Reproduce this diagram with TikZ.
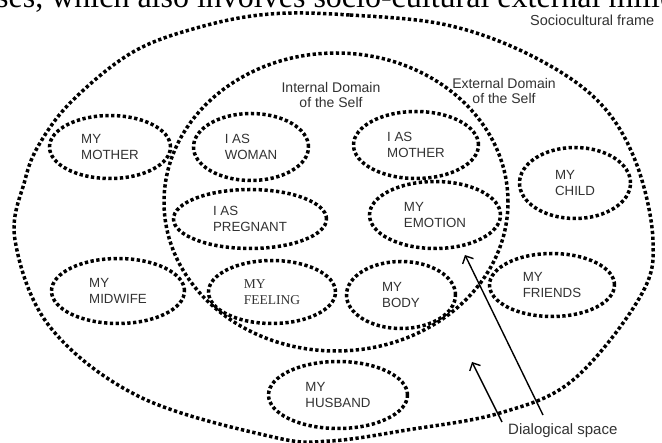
\documentclass[tikz,border=0pt]{standalone}
\usepackage{fontspec}
\setmainfont{Liberation Sans}
\newfontfamily\serifff{Liberation Serif}
\usetikzlibrary{shapes.geometric,arrows.meta}
\definecolor{txt}{RGB}{50,50,50}
\begin{document}
\begin{tikzpicture}[x=1pt,y=-1pt,
 dots/.style={line width=3.5pt,dash pattern=on 3.3pt off 2.5pt},
 bub/.style={ellipse,draw,dots,inner sep=0pt,align=left,text=txt,font=\fontsize{13.3}{16}\selectfont},
 lab/.style={text=txt,font=\fontsize{14}{15}\selectfont,align=center,inner sep=0pt},
 arr/.style={line width=1.4pt,-{Straight Barb[length=6pt,width=12pt]}}]
\useasboundingbox (0,0) rectangle (662,443);
\fill[white] (0,0) rectangle (662,443);
\begin{scope}
\clip (0,0) rectangle (662,443);
\node[anchor=base west,inner sep=0pt,font=\serifff\fontsize{32}{32}\selectfont] (toptext) at (-4,8) {ses, which also involves socio-cultural external milieu};
\end{scope}
% outer sociocultural frame
\draw[dots] plot[smooth cycle,tension=0.6] coordinates {(270,14) (350,15) (447,25) (530,55) (597,100) (635,160) (653,240) (640,297) (573,380) (500,413) (407,430) (330,441) (273,437) (140,397) (50,327) (15,240) (25,180) (40,143) (73,100) (133,52) (200,27)};
% internal domain
\draw[dots] (336,202) ellipse [x radius=172pt, y radius=149pt];
% labels
\node[lab,anchor=north] (intl) at (331,82) {Internal Domain\\of the Self};
\node[lab,anchor=north] (extl) at (504,78) {External Domain\\of the Self};
\node[lab,anchor=base west,font=\fontsize{14.5}{15}\selectfont] (soc) at (530,26) {Sociocultural frame};
\node[lab,anchor=base west,font=\fontsize{15}{16}\selectfont] (dia) at (508,435) {Dialogical space};
% bubbles
\node[bub,minimum width=121pt,minimum height=63pt] (mymother) at (110,147) {MY\\MOTHER};
\node[bub,minimum width=115pt,minimum height=67pt] (woman) at (251,147) {I AS\\WOMAN};
\node[bub,minimum width=153pt,minimum height=59pt] (preg) at (250,219) {I AS\\PREGNANT};
\node[bub,minimum width=125pt,minimum height=67pt] (iasmother) at (416,145) {I AS\\MOTHER};
\node[bub,minimum width=131pt,minimum height=67pt] (emotion) at (435,215) {MY\\EMOTION};
\node[bub,minimum width=111pt,minimum height=71pt] (child) at (575,183) {MY\\CHILD};
\node[bub,minimum width=133pt,minimum height=65pt] (midwife) at (118,291) {MY\\MIDWIFE};
\node[bub,minimum width=127pt,minimum height=63pt,font=\serifff\fontsize{13.5}{16}\selectfont] (feeling) at (272,292) {MY\\FEELING};
\node[bub,minimum width=109pt,minimum height=67pt] (body) at (401,295) {MY\\BODY};
\node[bub,minimum width=125pt,minimum height=63pt] (friends) at (552,285) {MY\\FRIENDS};
\node[bub,minimum width=139pt,minimum height=67pt] (husband) at (338,395) {MY\\HUSBAND};
% arrows
\coordinate (a1s) at (543,415);
\coordinate (a1e) at (465,255);
\coordinate (a2s) at (502,422);
\coordinate (a2e) at (472,362);
\draw[arr] (a1s) -- (a1e);
\draw[arr] (a2s) -- (a2e);
\end{tikzpicture}
\end{document}
